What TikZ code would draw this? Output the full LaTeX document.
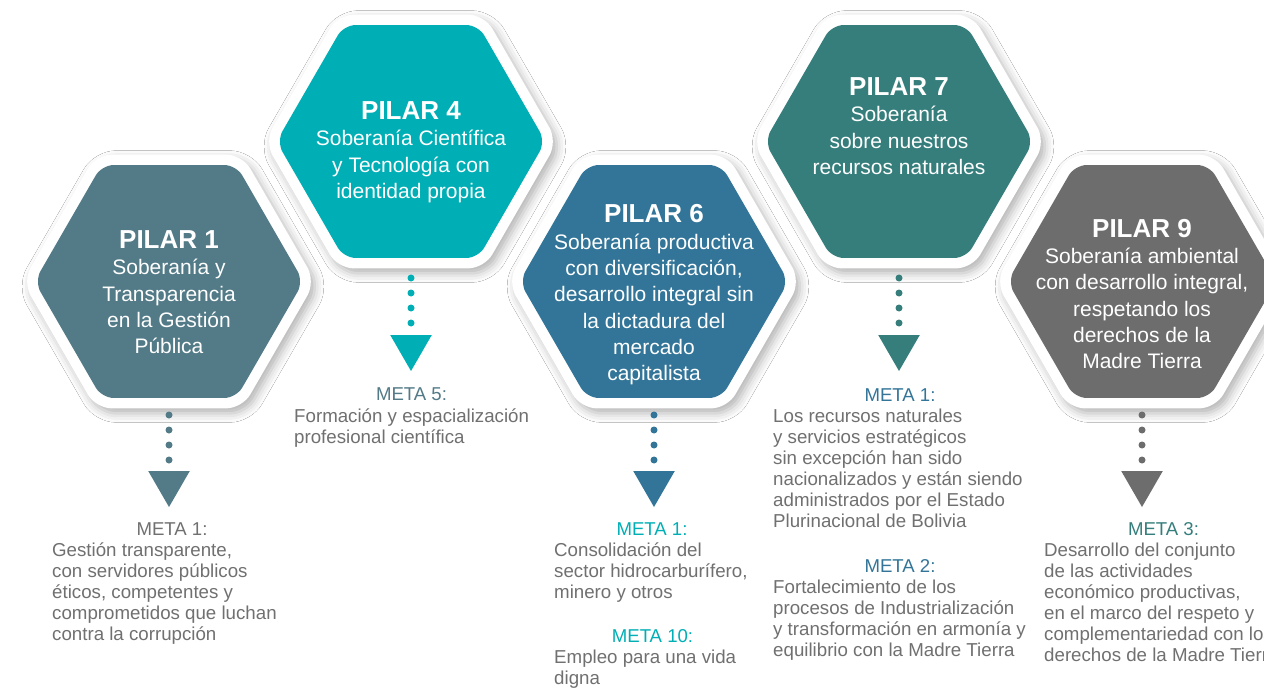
\documentclass[tikz,border=0pt]{standalone}
\usepackage{fontspec}
\setmainfont{Liberation Sans}
\usetikzlibrary{shapes.geometric,positioning,shadows.blur}
\definecolor{slateteal}{HTML}{527A87}
\definecolor{brightteal}{HTML}{00AFB5}
\definecolor{steelblue}{HTML}{327598}
\definecolor{deepteal}{HTML}{357E7C}
\definecolor{stonegrey}{HTML}{6D6D6D}
\definecolor{bodygrey}{HTML}{707070}

\begin{document}
\begin{tikzpicture}[
    x=1pt, y=-1pt,
    hexrim/.style={
        regular polygon, regular polygon sides=6,
        minimum size=293pt, inner sep=0pt, outer sep=0pt,
        fill=white, rounded corners=16pt,
        blur shadow={shadow xshift=4pt, shadow yshift=-5pt,
                     shadow blur radius=9pt, shadow opacity=30}
    },
    hexfill/.style={
        regular polygon, regular polygon sides=6,
        minimum size=269pt, inner sep=0pt, outer sep=0pt,
        fill=#1, rounded corners=12pt
    },
    hextext/.style={
        anchor=north, align=center, text=white, inner sep=0pt,
        font=\fontsize{21}{26.3}\selectfont
    },
    pointer/.style={
        regular polygon, regular polygon sides=3, shape border rotate=180,
        minimum size=48pt, inner sep=0pt, outer sep=0pt, fill=#1
    },
    dotline/.style={draw=#1, line width=7pt, line cap=round,
        dash pattern=on 0pt off 15pt},
    metalabel/.style={anchor=base, inner sep=0pt, text=#1,
        font=\fontsize{18.6}{21}\selectfont},
    metabody/.style={anchor=north west, align=left, inner sep=0pt,
        text=bodygrey, font=\fontsize{18.7}{21}\selectfont}
]
\useasboundingbox (0,0) rectangle (1264,688);
\fill[white] (0,0) rectangle (1264,688);

% pilares
\node[hexrim] (r1) at (169,281.5) {};
\node[hexfill=slateteal] (p1) at (r1.center) {};
\node[hextext] (t1) at (169,230.5) {{\fontsize{26}{26}\selectfont\bfseries PILAR 1}\\Soberanía y\\Transparencia\\en la Gestión\\Pública};

\node[hexrim] (r4) at (411,141.5) {};
\node[hexfill=brightteal] (p4) at (r4.center) {};
\node[hextext] (t4) at (411,101.5) {{\fontsize{26}{26}\selectfont\bfseries PILAR 4}\\Soberanía Científica\\y Tecnología con\\identidad propia};

\node[hexrim] (r6) at (654,281.5) {};
\node[hexfill=steelblue] (p6) at (r6.center) {};
\node[hextext] (t6) at (654,204.5) {{\fontsize{26}{26}\selectfont\bfseries PILAR 6}\\Soberanía productiva\\con diversificación,\\desarrollo integral sin\\la dictadura del\\mercado\\capitalista};

\node[hexrim] (r7) at (899,141.5) {};
\node[hexfill=deepteal] (p7) at (r7.center) {};
\node[hextext] (t7) at (899,77.5) {{\fontsize{26}{26}\selectfont\bfseries PILAR 7}\\Soberanía\\sobre nuestros\\recursos naturales};

\node[hexrim] (r9) at (1142,281.5) {};
\node[hexfill=stonegrey] (p9) at (r9.center) {};
\node[hextext] (t9) at (1142,219) {{\fontsize{26}{26}\selectfont\bfseries PILAR 9}\\Soberanía ambiental\\con desarrollo integral,\\respetando los\\derechos de la\\Madre Tierra};

% flechas
\node[pointer=slateteal, below=73pt of p1] (a1) {};
\node[pointer=brightteal, below=77pt of p4] (a4) {};
\node[pointer=steelblue, below=73pt of p6] (a6) {};
\node[pointer=deepteal, below=77pt of p7] (a7) {};
\node[pointer=stonegrey, below=73pt of p9] (a9) {};
\draw[dotline=slateteal] ([yshift=-17pt]p1.south) -- (a1.north);
\draw[dotline=brightteal] ([yshift=-20pt]p4.south) -- (a4.north);
\draw[dotline=steelblue] ([yshift=-17pt]p6.south) -- (a6.north);
\draw[dotline=deepteal] ([yshift=-20pt]p7.south) -- (a7.north);
\draw[dotline=stonegrey] ([yshift=-17pt]p9.south) -- (a9.north);

% metas
\node[metalabel=bodygrey] (m1) at (172,535) {META 1:};
\node[metabody] (b1) at (52,543) {Gestión transparente,\\con servidores públicos\\éticos, competentes y\\comprometidos que luchan\\contra la corrupción};

\node[metalabel=slateteal] (m5) at (411.5,400.5) {META 5:};
\node[metabody] (b5) at (294,409) {Formación y espacialización\\profesional científica};

\node[metalabel=brightteal] (m61) at (652,535) {META 1:};
\node[metabody] (b61) at (554,543) {Consolidación del\\sector hidrocarburífero,\\minero y otros};
\node[metalabel=brightteal] (m610) at (652.5,642) {META 10:};
\node[metabody] (b610) at (554,650) {Empleo para una vida\\digna};

\node[metalabel=steelblue] (m71) at (900,401) {META 1:};
\node[metabody] (b71) at (773,409) {Los recursos naturales\\y servicios estratégicos\\sin excepción han sido\\nacionalizados y están siendo\\administrados por el Estado\\Plurinacional de Bolivia};
\node[metalabel=steelblue] (m72) at (900,572) {META 2:};
\node[metabody] (b72) at (773,580) {Fortalecimiento de los\\procesos de Industrialización\\y transformación en armonía y\\equilibrio con la Madre Tierra};

\node[metalabel=deepteal] (m93) at (1163.5,535) {META 3:};
\node[metabody] (b93) at (1044,543) {Desarrollo del conjunto\\de las actividades\\económico productivas,\\en el marco del respeto y\\complementariedad con los\\derechos de la Madre Tierra};
\end{tikzpicture}
\end{document}
